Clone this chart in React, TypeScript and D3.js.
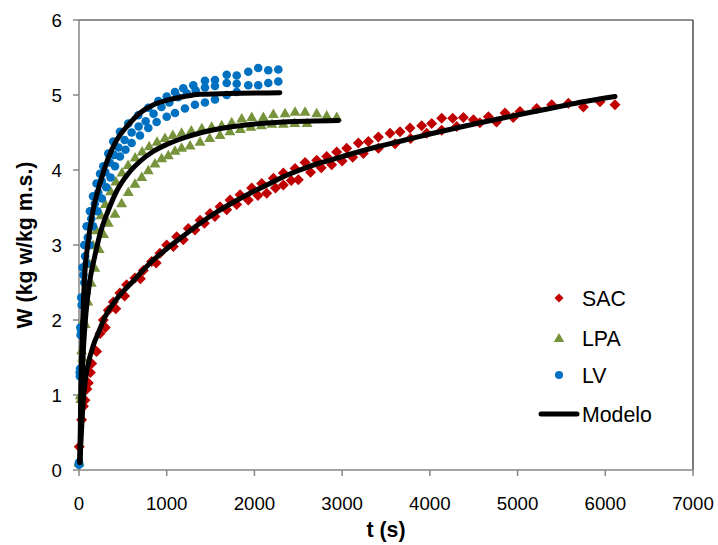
import React from "react";
import * as d3 from "d3";

type P = [number, number];

// Experimental data: t (s), W (kg w/kg m.s.)
const sacData: P[] = [
  [3, 0.31], [30, 0.67], [68, 0.93], [106, 1.16], [145, 1.42], [182, 1.6], [240, 1.82], [277, 2.0],
  [334, 2.13], [391, 2.24], [467, 2.36], [543, 2.47], [638, 2.56], [733, 2.66], [828, 2.78], [923, 2.89],
  [1000, 3.0], [1114, 3.11], [1246, 3.22], [1380, 3.33], [1494, 3.42], [1608, 3.51], [1722, 3.6],
  [1836, 3.67], [1969, 3.76], [2083, 3.82], [2216, 3.89], [2330, 3.96], [2463, 4.02], [2577, 4.1],
  [2710, 4.13], [2824, 4.18], [2938, 4.24], [3052, 4.29], [3185, 4.36], [3299, 4.38], [3413, 4.44],
  [3546, 4.49], [3660, 4.51], [3774, 4.56], [3907, 4.59], [4021, 4.62], [4135, 4.69], [4260, 4.69],
  [4382, 4.7], [4496, 4.67], [4667, 4.71], [4857, 4.76], [5028, 4.78], [5218, 4.82], [5389, 4.87],
  [5579, 4.89], [5750, 4.84], [5940, 4.91], [6111, 4.87],
  [50, 0.85], [90, 1.08], [130, 1.3], [200, 1.58], [300, 1.9], [420, 2.15], [520, 2.32], [700, 2.55],
  [880, 2.76], [1075, 2.98], [1189, 3.07], [1322, 3.2], [1430, 3.29], [1550, 3.38], [1684, 3.47],
  [1798, 3.54], [1930, 3.6], [2040, 3.66], [2140, 3.69], [2240, 3.76], [2330, 3.8], [2420, 3.86],
  [2500, 3.87], [2640, 3.97], [2762, 4.03], [2881, 4.07], [3000, 4.12], [3120, 4.17], [3242, 4.22],
  [3413, 4.29], [3603, 4.35], [3780, 4.42], [3964, 4.49], [4135, 4.53], [4306, 4.58], [4570, 4.63],
  [4760, 4.64], [4950, 4.7],
];

const lpaData: P[] = [
  [0, 0.12], [15, 1.0], [30, 1.6], [50, 2.0], [80, 2.4], [120, 2.75], [160, 3.0], [200, 3.2], [250, 3.4],
  [300, 3.55], [360, 3.72], [420, 3.85], [490, 3.97], [560, 4.07], [640, 4.17], [720, 4.25], [800, 4.32],
  [890, 4.38], [980, 4.43], [1070, 4.47], [1170, 4.5], [1280, 4.53], [1400, 4.56], [1513, 4.58],
  [1627, 4.6], [1741, 4.64], [1855, 4.69], [1969, 4.71], [2102, 4.71], [2216, 4.75], [2349, 4.76],
  [2463, 4.78], [2577, 4.78], [2710, 4.76], [2824, 4.73], [2938, 4.71],
  [0, 0.1], [20, 0.95], [40, 1.5], [70, 1.95], [100, 2.25], [140, 2.5], [180, 2.7], [230, 2.95],
  [280, 3.15], [334, 3.3], [410, 3.42], [486, 3.56], [562, 3.71], [638, 3.82], [715, 3.91], [790, 4.0],
  [866, 4.09], [942, 4.16], [1018, 4.2], [1094, 4.26], [1170, 4.3], [1266, 4.33], [1380, 4.38],
  [1490, 4.43], [1608, 4.47], [1720, 4.52], [1840, 4.55], [1960, 4.58], [2080, 4.6], [2200, 4.62],
  [2330, 4.62], [2460, 4.63], [2600, 4.63],
];

const lvData: P[] = [
  [0, 0.08], [8, 1.3], [15, 1.9], [25, 2.3], [40, 2.7], [60, 3.0], [87, 3.25], [125, 3.45], [160, 3.65],
  [200, 3.82], [240, 3.95], [277, 4.05], [334, 4.22], [391, 4.38], [467, 4.51], [562, 4.62], [676, 4.73],
  [790, 4.83], [904, 4.92], [1000, 4.98], [1094, 5.04], [1189, 5.09], [1303, 5.13], [1436, 5.19],
  [1550, 5.2], [1684, 5.27], [1798, 5.26], [1930, 5.31], [2043, 5.36], [2158, 5.33], [2272, 5.34],
  [0, 0.1], [10, 1.25], [18, 1.8], [30, 2.2], [50, 2.6], [70, 2.85], [100, 3.1], [140, 3.35], [180, 3.55],
  [220, 3.7], [260, 3.85], [300, 3.97], [350, 4.1], [400, 4.2], [450, 4.3], [520, 4.4], [600, 4.5],
  [680, 4.58], [760, 4.65], [850, 4.75], [940, 4.84], [1030, 4.9], [1130, 4.97], [1230, 5.02],
  [1330, 5.06], [1436, 5.1], [1550, 5.12], [1684, 5.16], [1798, 5.15], [1930, 5.13], [2043, 5.13],
  [2158, 5.16], [2272, 5.18],
  [0, 0.07], [12, 1.35], [25, 1.85], [40, 2.2], [60, 2.5], [85, 2.75], [120, 3.0], [160, 3.25],
  [210, 3.45], [260, 3.62], [310, 3.77], [360, 3.9], [410, 4.05], [467, 4.18], [530, 4.27], [600, 4.36],
  [695, 4.46], [790, 4.56], [885, 4.64], [1000, 4.71], [1094, 4.76], [1208, 4.82], [1322, 4.87],
  [1436, 4.9], [1550, 4.94], [1684, 5.0], [1798, 5.04],
];

// Model curves
const sacModel: P[] = [
  [10, 0.1], [19, 0.31], [49, 0.93], [68, 1.16], [106, 1.42], [160, 1.65], [224, 1.84], [296, 2.04],
  [430, 2.28], [619, 2.52], [810, 2.76], [1000, 2.95], [1189, 3.12], [1380, 3.29], [1570, 3.44],
  [1760, 3.57], [1950, 3.69], [2140, 3.8], [2330, 3.91], [2520, 4.0], [2710, 4.08], [2862, 4.13],
  [3090, 4.21], [3400, 4.31], [3717, 4.4], [4000, 4.48], [4300, 4.56], [4572, 4.63], [4860, 4.7],
  [5150, 4.77], [5450, 4.84], [5750, 4.91], [6111, 4.98],
];
const lpaModel: P[] = [
  [10, 0.1], [25, 0.9], [50, 1.6], [80, 2.1], [120, 2.5], [180, 2.85], [240, 3.15], [330, 3.45],
  [430, 3.72], [560, 3.95], [700, 4.12], [850, 4.25], [1000, 4.34], [1200, 4.43], [1400, 4.5],
  [1760, 4.58], [2330, 4.64], [2960, 4.66],
];
const lvModel: P[] = [
  [10, 0.1], [20, 1.0], [40, 1.9], [68, 2.65], [100, 3.0], [150, 3.4], [239, 3.82], [330, 4.15],
  [430, 4.4], [560, 4.6], [695, 4.76], [850, 4.87], [1000, 4.93], [1200, 4.98], [1380, 5.01],
  [1700, 5.02], [2290, 5.03],
];

const xTicks = [0, 1000, 2000, 3000, 4000, 5000, 6000, 7000];
const yTicks = [0, 1, 2, 3, 4, 5, 6];
const legendLabels = ["SAC", "LPA", "LV", "Modelo"];

const RED = "#C00000";
const GREEN = "#77933C";
const BLUE = "#0070C0";
const FONT = "'Liberation Sans', Arial, sans-serif";

const diamond = (cx: number, cy: number, r: number) =>
  `M${cx},${cy - r}L${cx + r},${cy}L${cx},${cy + r}L${cx - r},${cy}Z`;
const triangle = (cx: number, cy: number, r: number) =>
  `M${cx},${cy - r}L${cx + r * 1.05},${cy + r * 0.8}L${cx - r * 1.05},${cy + r * 0.8}Z`;

export default function App() {
  const W = 718, H = 545;
  const x = d3.scaleLinear().domain([0, 7000]).range([79, 693]);
  const y = d3.scaleLinear().domain([0, 6]).range([470, 20]);
  const line = d3
    .line<P>()
    .x((d) => x(d[0]))
    .y((d) => y(d[1]))
    .curve(d3.curveMonotoneX);

  const axisGray = "#868686";
  const legendX = 559;
  const legendYs = [298, 338, 375, 414];

  return (
    <svg
      width={W}
      height={H}
      style={{ position: "absolute", left: 0, top: 0, background: "#fff" }}
      fontFamily={FONT}
    >
      <rect x={0} y={0} width={W} height={H} fill="#fff" />
      {/* frame */}
      <line x1={x(0)} x2={x(7000)} y1={y(6)} y2={y(6)} stroke="#222" strokeWidth={1.2} />
      <line x1={x(7000)} x2={x(7000)} y1={y(6)} y2={y(0)} stroke="#222" strokeWidth={1.2} />
      {/* axes */}
      <line x1={x(0)} x2={x(0)} y1={y(6)} y2={y(0)} stroke={axisGray} strokeWidth={1.5} />
      <line x1={x(0)} x2={x(7000)} y1={y(0)} y2={y(0)} stroke={axisGray} strokeWidth={1.5} />
      {yTicks.map((t) => (
        <g key={"y" + t}>
          <line x1={x(0) - 6} x2={x(0)} y1={y(t)} y2={y(t)} stroke={axisGray} strokeWidth={1.5} />
          <text x={62} y={y(t)} dy="0.35em" textAnchor="end" fontSize={18.7} fill="#000">
            {t}
          </text>
        </g>
      ))}
      {xTicks.map((t) => (
        <g key={"x" + t}>
          <line x1={x(t)} x2={x(t)} y1={y(0)} y2={y(0) + 6} stroke={axisGray} strokeWidth={1.5} />
          <text x={x(t)} y={510} textAnchor="middle" fontSize={18.7} fill="#000">
            {t}
          </text>
        </g>
      ))}
      {/* axis titles */}
      <text x={(x(0) + x(7000)) / 2} y={537} textAnchor="middle" fontSize={21.3} fontWeight="bold">
        t (s)
      </text>
      <text
        transform={`translate(32,${(y(0) + y(6)) / 2}) rotate(-90)`}
        textAnchor="middle"
        fontSize={21.3}
        fontWeight="bold"
      >
        W (kg w/kg m.s.)
      </text>

      {/* data markers */}
      <g fill={RED}>
        {sacData.map((d, i) => (
          <path key={"s" + i} d={diamond(x(d[0]), y(d[1]), 5.5)} />
        ))}
      </g>
      <g fill={GREEN}>
        {lpaData.map((d, i) => (
          <path key={"l" + i} d={triangle(x(d[0]), y(d[1]), 5.2)} />
        ))}
      </g>
      <g fill={BLUE}>
        {lvData.map((d, i) => (
          <circle key={"v" + i} cx={x(d[0])} cy={y(d[1])} r={4.3} />
        ))}
      </g>

      {/* model lines */}
      {[sacModel, lpaModel, lvModel].map((m, i) => (
        <path
          key={"m" + i}
          d={line(m) || ""}
          fill="none"
          stroke="#000"
          strokeWidth={5}
          strokeLinecap="round"
          strokeLinejoin="round"
        />
      ))}

      {/* legend */}
      <path d={diamond(legendX, legendYs[0], 4.5)} fill={RED} />
      <path d={triangle(legendX, legendYs[1], 5)} fill={GREEN} />
      <circle cx={legendX} cy={legendYs[2]} r={4} fill={BLUE} />
      <line x1={541} x2={577} y1={legendYs[3]} y2={legendYs[3]} stroke="#000" strokeWidth={5} strokeLinecap="round" />
      {legendLabels.map((lab, i) => (
        <text key={lab} x={582} y={legendYs[i]} dy="0.36em" fontSize={21.3} fill="#000">
          {lab}
        </text>
      ))}
    </svg>
  );
}
